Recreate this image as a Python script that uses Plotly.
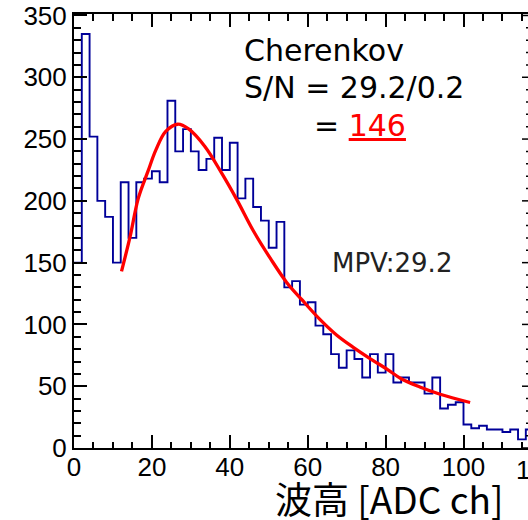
import plotly.graph_objects as go

# Histogram: bin width 2 ADC ch, starting at 0
bin_width = 2
counts = [150, 335, 252, 200, 187, 150, 215, 170, 215, 218,
          224, 215, 281, 240, 258, 240, 225, 234, 251, 225,
          247, 202, 218, 195, 184, 162, 183, 130, 135, 116,
          118, 99, 92, 76, 65, 79, 72, 57, 76, 61,
          76, 53, 57, 53, 53, 44, 57, 32, 35, 37,
          19, 16, 18, 15, 15, 13, 15, 7, 15]
bin_lo = [i * bin_width for i in range(len(counts))]

# Landau fit curve
fit_x = [12.2, 14.4, 16.5, 19.0, 21.0, 23.5, 26.6, 29.5, 33.6, 37.8, 41.8, 46.0,
         50.5, 54.6, 58.5, 63.0, 67.4, 71.7, 76.0, 80.5, 84.0, 88.8, 94.0, 101.7]
fit_y = [143, 171, 202, 224, 241, 256, 262, 258, 244, 223, 201, 176,
         153, 134, 120, 104.5, 91.5, 81.5, 72.4, 63.5, 56, 49.4, 43.5, 36.8]

y_ticks = [0, 50, 100, 150, 200, 250, 300, 350]
x_ticks = [0, 20, 40, 60, 80, 100]

X_MAX = 116.56
Y_MAX = 351.2

step_x = bin_lo + [bin_lo[-1] + bin_width]
step_y = counts + [counts[-1]]

fig = go.Figure()
fig.add_trace(go.Scatter(x=step_x, y=step_y, mode="lines", line_shape="hv",
                         line=dict(color="#000099", width=1.9), showlegend=False,
                         hoverinfo="skip"))
fig.add_trace(go.Scatter(x=fit_x, y=fit_y, mode="lines", line_shape="spline",
                         line=dict(color="#ff0000", width=3.3), showlegend=False,
                         hoverinfo="skip"))

tickfont = dict(family="Liberation Sans", size=26, color="black")
fig.update_xaxes(range=[0, X_MAX], tickvals=x_ticks, ticks="inside", ticklen=13,
                 tickwidth=1.5, tickcolor="black", showline=True, linecolor="black",
                 linewidth=2, mirror="ticks", showgrid=False, zeroline=False,
                 tickfont=tickfont, ticklabelstandoff=-5,
                 minor=dict(dtick=5, ticks="inside", ticklen=6.5, tickwidth=1.5,
                            tickcolor="black", showgrid=False))
fig.update_yaxes(range=[0, Y_MAX], tickvals=y_ticks, ticks="inside", ticklen=13,
                 tickwidth=1.5, tickcolor="black", showline=True, linecolor="black",
                 linewidth=2, mirror=False, showgrid=False, zeroline=False,
                 tickfont=tickfont,
                 minor=dict(dtick=10, ticks="inside", ticklen=6.5, tickwidth=1.5,
                            tickcolor="black", showgrid=False))

shapes = []
for v in range(0, 351, 10):
    major = (v % 50 == 0)
    shapes.append(dict(type="line", xref="paper", yref="y",
                       x0=0.9868 if major else 0.9956, x1=1.0, y0=v, y1=v,
                       line=dict(color="black", width=1.5)))
fig.update_layout(shapes=shapes)

txtfont = dict(family="DejaVu Sans", size=30, color="black")
ann = [
    dict(text="Cherenkov", x=43.2, y=322, xref="x", yref="y", xanchor="left",
         yanchor="middle", showarrow=False, font=txtfont),
    dict(text="S/N = 29.2/0.2", x=43.2, y=292, xref="x", yref="y", xanchor="left",
         yanchor="middle", showarrow=False, font=txtfont),
    dict(text="= <span style='color:#ff0000'><u>146</u></span>", x=61.0, y=261,
         xref="x", yref="y", xanchor="left", yanchor="middle", showarrow=False,
         font=txtfont),
    dict(text="MPV:29.2", x=65.8, y=150, xref="x", yref="y", xanchor="left",
         yanchor="middle", showarrow=False,
         font=dict(family="DejaVu Sans", size=26, color="#222222")),
    dict(text="波高 [ADC ch]", x=0.949, y=-0.115, xref="paper", yref="paper",
         xanchor="right", yanchor="middle", showarrow=False,
         font=dict(family="Noto Sans CJK JP", size=37, color="black")),
    dict(text="120", x=1.022, y=0, xref="paper", yref="y", xanchor="center",
         yanchor="top", yshift=-5, showarrow=False, font=tickfont),
]
fig.update_layout(annotations=ann)

fig.update_layout(width=528, height=520, margin=dict(l=74, r=0, t=14, b=72),
                  plot_bgcolor="white", paper_bgcolor="white")

fig.write_html("out.html", config={"displayModeBar": False},
               post_script="document.body.style.margin='0';document.body.style.overflow='hidden';")
